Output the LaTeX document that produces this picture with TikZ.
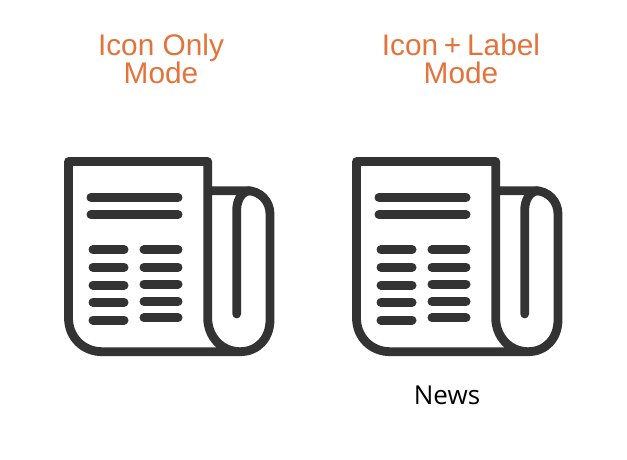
\documentclass[tikz,border=0pt]{standalone}
\usepackage{fontspec}
\setmainfont{Liberation Sans}
\newfontfamily\labelfont{Open Sans}
\definecolor{iconink}{HTML}{333333}
\definecolor{headorange}{HTML}{E3733A}
\tikzset{
  outline/.style={draw=iconink,line width=8.8pt,line join=round,line cap=butt},
  textbar/.style={draw=iconink,line width=9pt,line cap=round},
  heading/.style={text=headorange,font=\fontsize{29.8}{28.5}\selectfont,align=center,inner sep=0pt,anchor=base},
  newsicon/.pic={
    \draw[outline] (240,351.7) -- (102,351.7) .. controls (83,351.7) and (68.5,337) .. (68.5,318) -- (68.5,161.5) -- (207.7,161.5) -- (207.7,318)
      .. controls (207.7,337) and (222,351.7) .. (240,351.7) .. controls (258,351.7) and (270,338) .. (270,320) -- (270,214)
      .. controls (270,201) and (260,190.7) .. (247,190.7) -- (207.7,190.7);
    \draw[outline,line cap=round] (236.7,314) -- (236.7,210) .. controls (236.7,200) and (242,191) .. (250,190.7);
    \foreach \bary in {197.3,214.7} \draw[textbar] (91,\bary) -- (178,\bary);
    \foreach \bary in {249.7,267.3,285,302.3,320} \draw[textbar] (93,\bary) -- (124,\bary);
    \foreach \bary in {249.7,267.3,284,301.3,317.7} \draw[textbar] (144,\bary) -- (178,\bary);
  }
}
\begin{document}
\begin{tikzpicture}[x=1pt,y=-1pt]
\useasboundingbox (0,0) rectangle (627,460);
\pic (plainicon) at (0,0) {newsicon};
\pic (labelledicon) at (288,0) {newsicon};
\node[heading] (plainhead) at (161,84) {Icon Only\\Mode};
\node[heading] (labelhead) at (461,84) {Icon\kern-2.5pt{} +\kern-2.5pt{} Label\\Mode};
\node[font=\labelfont\fontsize{26}{30}\selectfont,text=black,inner sep=0pt,anchor=base] (newslabel) at (447,404) {News};
\end{tikzpicture}
\end{document}
